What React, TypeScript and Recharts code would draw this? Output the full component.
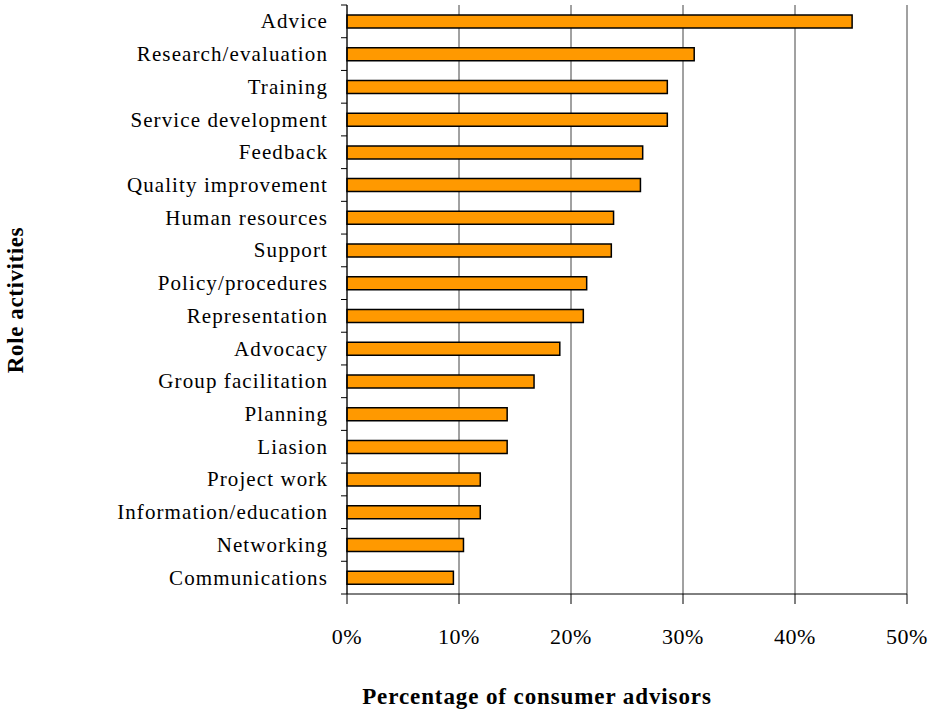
import { BarChart, Bar, XAxis, YAxis, CartesianGrid, Label } from "recharts";

const categories = [
  "Advice",
  "Research/evaluation",
  "Training",
  "Service development",
  "Feedback",
  "Quality improvement",
  "Human resources",
  "Support",
  "Policy/procedures",
  "Representation",
  "Advocacy",
  "Group facilitation",
  "Planning",
  "Liasion",
  "Project work",
  "Information/education",
  "Networking",
  "Communications",
];

const percentages = [
  45.1, 31.0, 28.6, 28.6, 26.4, 26.2, 23.8, 23.6, 21.4, 21.1, 19.0, 16.7, 14.3,
  14.3, 11.9, 11.9, 10.4, 9.5,
];

const xTicks = [0, 10, 20, 30, 40, 50];

const FONT = "'Liberation Serif', 'Times New Roman', serif";
const WIDTH = 933;
const HEIGHT = 711;
const TOP = 5;
const X_AXIS_H = 117;
const BAND = (HEIGHT - TOP - X_AXIS_H) / categories.length;

const chartData = categories.map((name, i) => ({ name, value: percentages[i] }));

const titleStyle = {
  fontFamily: FONT,
  fontSize: 23,
  fontWeight: "bold" as const,
  fill: "#000",
};

const CategoryTick = (props: any) => {
  const { x, y, payload, index } = props;
  const axisX = x + 19;
  return (
    <g>
      <text
        x={x}
        y={y}
        dy={7}
        textAnchor="end"
        fontFamily={FONT}
        fontSize={21}
        letterSpacing={1.1}
        fill="#000"
      >
        {payload.value}
      </text>
      {index === 0 && (
        <line x1={axisX - 6} x2={axisX} y1={y - BAND / 2} y2={y - BAND / 2} stroke="#000" />
      )}
      <line x1={axisX - 6} x2={axisX} y1={y + BAND / 2} y2={y + BAND / 2} stroke="#000" />
    </g>
  );
};

export default function App() {
  return (
    <div style={{ position: "absolute", left: 0, top: 0, background: "#fff" }}>
      <BarChart
        width={WIDTH}
        height={HEIGHT}
        data={chartData}
        layout="vertical"
        margin={{ top: TOP, right: 26, bottom: 0, left: 0 }}
      >
        <CartesianGrid horizontal={false} stroke="#444" strokeWidth={1} />
        <XAxis
          type="number"
          domain={[0, 50]}
          ticks={xTicks}
          tickFormatter={(v) => `${v}%`}
          height={X_AXIS_H}
          tickSize={10}
          tickMargin={24}
          axisLine={{ stroke: "#000" }}
          tickLine={{ stroke: "#000" }}
          tick={{ fill: "#000", fontFamily: FONT, fontSize: 22, letterSpacing: 0.6 }}
        >
          <Label
            content={() => (
              <text x={537} y={704} textAnchor="middle" letterSpacing={0.9} {...titleStyle}>
                Percentage of consumer advisors
              </text>
            )}
          />
        </XAxis>
        <YAxis
          type="category"
          dataKey="name"
          width={347}
          tickLine={false}
          tickSize={6}
          tickMargin={13}
          axisLine={{ stroke: "#000" }}
          tick={<CategoryTick />}
          interval={0}
        >
          <Label
            content={() => (
              <text
                x={23}
                y={300}
                textAnchor="middle"
                transform="rotate(-90 23 300)"
                letterSpacing={0.6}
                {...titleStyle}
              >
                Role activities
              </text>
            )}
          />
        </YAxis>
        <Bar
          dataKey="value"
          fill="#FF9900"
          stroke="#000"
          strokeWidth={1.5}
          barSize={13}
          isAnimationActive={false}
        />
      </BarChart>
    </div>
  );
}
